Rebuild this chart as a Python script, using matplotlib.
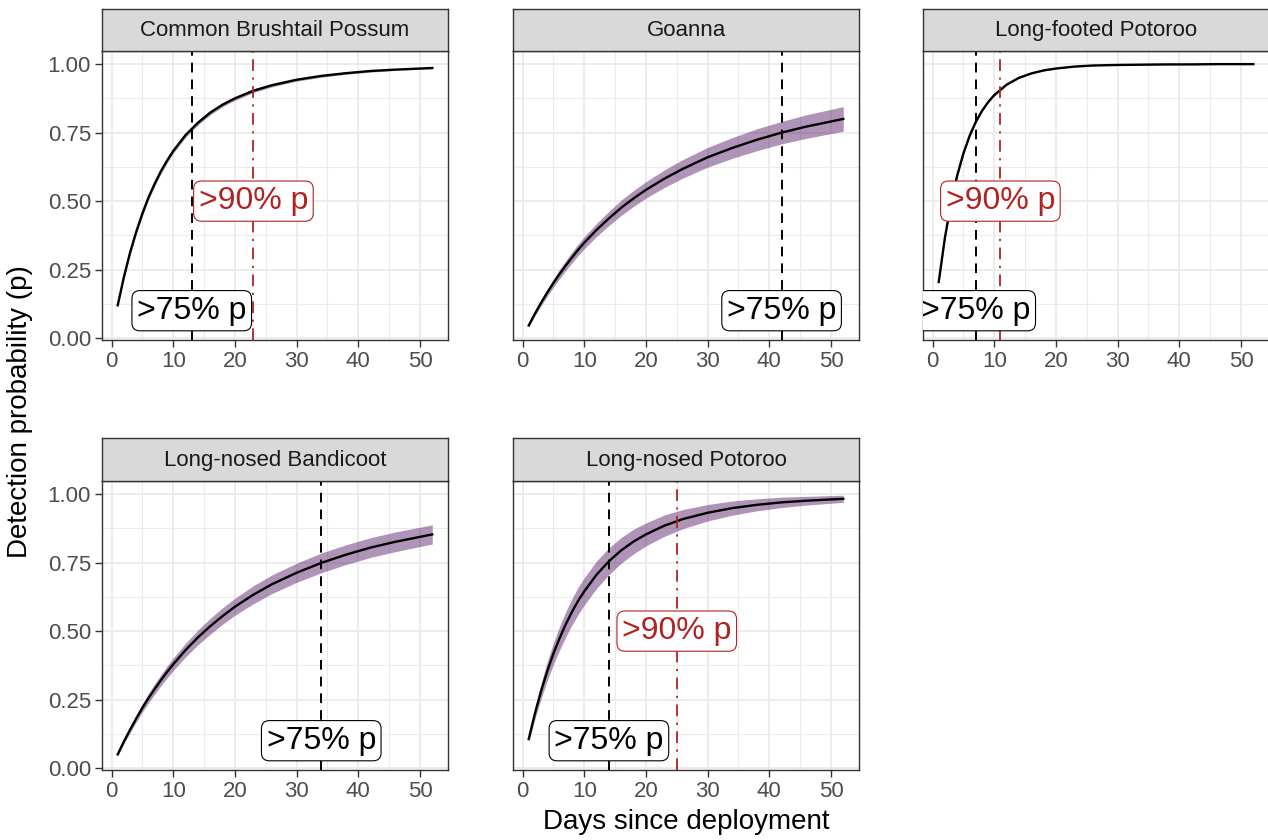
import matplotlib
matplotlib.use("Agg")
import matplotlib.pyplot as plt
from matplotlib.ticker import MultipleLocator, FormatStrFormatter

# ---------------- data ----------------
days = [1, 2, 3, 4, 5, 6, 7, 8, 9, 10, 12, 14, 16, 18, 20, 23, 26, 30, 34, 38, 42, 46, 52]

species = ["Common Brushtail Possum", "Goanna", "Long-footed Potoroo",
           "Long-nosed Bandicoot", "Long-nosed Potoroo"]

possum_p = [0.120, 0.223, 0.312, 0.388, 0.455, 0.514, 0.564, 0.609, 0.648, 0.683, 0.741, 0.786,
            0.823, 0.852, 0.875, 0.903, 0.923, 0.943, 0.957, 0.967, 0.975, 0.980, 0.986]
possum_lo = [0.114, 0.215, 0.303, 0.379, 0.446, 0.505, 0.555, 0.600, 0.639, 0.675, 0.733, 0.778,
             0.815, 0.845, 0.868, 0.896, 0.917, 0.938, 0.952, 0.963, 0.971, 0.977, 0.983]
possum_hi = [0.126, 0.231, 0.321, 0.397, 0.464, 0.523, 0.573, 0.618, 0.657, 0.691, 0.749, 0.794,
             0.831, 0.859, 0.882, 0.910, 0.929, 0.948, 0.962, 0.971, 0.979, 0.983, 0.989]

goanna_p = [0.046, 0.089, 0.129, 0.166, 0.201, 0.234, 0.265, 0.294, 0.322, 0.348, 0.395, 0.437,
            0.476, 0.510, 0.541, 0.582, 0.618, 0.660, 0.694, 0.724, 0.750, 0.772, 0.800]
goanna_lo = [0.041, 0.081, 0.118, 0.153, 0.186, 0.217, 0.247, 0.274, 0.301, 0.326, 0.371, 0.411,
             0.448, 0.481, 0.511, 0.550, 0.584, 0.624, 0.656, 0.684, 0.709, 0.729, 0.755]
goanna_hi = [0.051, 0.097, 0.140, 0.179, 0.216, 0.251, 0.283, 0.314, 0.343, 0.370, 0.419, 0.463,
             0.504, 0.539, 0.571, 0.614, 0.652, 0.696, 0.732, 0.764, 0.791, 0.815, 0.845]

lfpot_p = [0.205, 0.366, 0.494, 0.594, 0.674, 0.738, 0.789, 0.829, 0.861, 0.887, 0.925, 0.950,
           0.966, 0.977, 0.984, 0.991, 0.995, 0.997, 0.998, 0.999, 0.999, 1.000, 1.000]
lfpot_lo = [0.199, 0.359, 0.487, 0.587, 0.668, 0.733, 0.784, 0.825, 0.858, 0.884, 0.922, 0.948,
            0.964, 0.976, 0.983, 0.990, 0.994, 0.996, 0.997, 0.998, 0.999, 0.999, 0.999]
lfpot_hi = [0.211, 0.373, 0.501, 0.601, 0.680, 0.743, 0.794, 0.833, 0.864, 0.890, 0.928, 0.952,
            0.968, 0.978, 0.985, 0.992, 0.996, 0.998, 0.999, 1.000, 1.000, 1.000, 1.000]

bandi_p = [0.050, 0.097, 0.140, 0.181, 0.220, 0.256, 0.289, 0.321, 0.351, 0.379, 0.431, 0.477,
           0.518, 0.555, 0.589, 0.633, 0.671, 0.713, 0.749, 0.779, 0.805, 0.826, 0.853]
bandi_lo = [0.045, 0.089, 0.129, 0.168, 0.205, 0.239, 0.270, 0.301, 0.329, 0.356, 0.406, 0.450,
            0.489, 0.525, 0.558, 0.600, 0.637, 0.678, 0.713, 0.743, 0.769, 0.790, 0.818]
bandi_hi = [0.055, 0.105, 0.151, 0.194, 0.235, 0.273, 0.308, 0.341, 0.373, 0.402, 0.456, 0.504,
            0.547, 0.585, 0.620, 0.666, 0.705, 0.748, 0.785, 0.815, 0.841, 0.862, 0.888]

lnpot_p = [0.106, 0.199, 0.281, 0.354, 0.418, 0.474, 0.525, 0.570, 0.610, 0.645, 0.706, 0.755,
           0.795, 0.827, 0.853, 0.885, 0.909, 0.932, 0.949, 0.961, 0.970, 0.976, 0.983]
lnpot_lo = [0.096, 0.179, 0.253, 0.320, 0.379, 0.431, 0.479, 0.522, 0.560, 0.595, 0.656, 0.706,
            0.748, 0.782, 0.811, 0.846, 0.874, 0.902, 0.923, 0.939, 0.951, 0.960, 0.970]
lnpot_hi = [0.116, 0.219, 0.309, 0.388, 0.457, 0.517, 0.571, 0.618, 0.660, 0.695, 0.756, 0.804,
            0.842, 0.872, 0.895, 0.924, 0.944, 0.962, 0.975, 0.983, 0.989, 0.992, 0.996]

day75 = [13, 42, 7, 34, 14]
day90 = [23, None, 11, None, 25]

label75 = ">75% p"
label90 = ">90% p"
xlabel = "Days since deployment"
ylabel = "Detection probability (p)"

means = [possum_p, goanna_p, lfpot_p, bandi_p, lnpot_p]
lows = [possum_lo, goanna_lo, lfpot_lo, bandi_lo, lnpot_lo]
highs = [possum_hi, goanna_hi, lfpot_hi, bandi_hi, lnpot_hi]

# ---------------- styling ----------------
plt.rcParams['font.family'] = ['Liberation Sans', 'DejaVu Sans']

W, H = 1268, 840
fig = plt.figure(figsize=(W / 100, H / 100), dpi=100)

col_left = [102, 513, 923]
panel_w = 346
rows = [(9, 51, 340), (438, 481, 770)]  # strip top, panel top, panel bottom

RIBBON = '#440154'
RED = '#B22222'
BORDER = '#333333'
GRID = '#EBEBEB'
LABEL_BOX = 'round,pad=0.16,rounding_size=0.25'

# shared scales (ggplot-style 5% expansion)
xmin, xmax = min(days), max(days)
xpad = 0.05 * (xmax - xmin)
ymin_d = min(min(l) for l in lows)
ymax_d = max(max(h) for h in highs)
ypad = 0.05 * (ymax_d - ymin_d)

for i, name in enumerate(species):
    r, c = divmod(i, 3)
    st, pt, pb = rows[r]
    x0 = col_left[c]
    ax = fig.add_axes([x0 / W, (H - pb) / H, panel_w / W, (pb - pt) / H])
    sax = fig.add_axes([x0 / W, (H - pt) / H, panel_w / W, (pt - st) / H])

    ax.set_xlim(xmin - xpad, xmax + xpad)
    ax.set_ylim(ymin_d - ypad, ymax_d + ypad)
    ax.xaxis.set_major_locator(MultipleLocator(10))
    ax.xaxis.set_minor_locator(MultipleLocator(5))
    ax.yaxis.set_major_locator(MultipleLocator(0.25))
    ax.yaxis.set_minor_locator(MultipleLocator(0.125))
    ax.yaxis.set_major_formatter(FormatStrFormatter('%.2f'))
    ax.set_axisbelow(True)
    ax.grid(which='major', color=GRID, lw=1.3)
    ax.grid(which='minor', color=GRID, lw=0.8)
    ax.tick_params(which='minor', length=0)
    ax.tick_params(which='major', length=5, width=1.0, color=BORDER,
                   labelsize=16, labelcolor='#4D4D4D', pad=3)
    if c != 0:
        ax.tick_params(axis='y', which='both', length=0, labelleft=False)
    for s in ax.spines.values():
        s.set_color(BORDER)
        s.set_linewidth(1.0)

    ax.fill_between(days, lows[i], highs[i], color=RIBBON, alpha=0.42, lw=0, zorder=2)
    ax.plot(days, means[i], color='black', lw=1.7, zorder=3)

    ax.axvline(day75[i], color='black', lw=1.4, ls=(0, (5, 3.6)), zorder=4)
    if day90[i] is not None:
        ax.axvline(day90[i], color=RED, lw=1.3, ls=(0, (6.5, 3.6, 1.2, 3.6)), zorder=4)
        ax.text(day90[i], 0.5, label90, ha='center', va='center', fontsize=23, color=RED,
                bbox=dict(boxstyle=LABEL_BOX, fc='white', ec=RED, lw=0.8),
                clip_on=True, zorder=6)
    ax.text(day75[i], 0.1, label75, ha='center', va='center', fontsize=23, color='black',
            bbox=dict(boxstyle=LABEL_BOX, fc='white', ec='black', lw=0.8),
            clip_on=True, zorder=6)

    sax.set_facecolor('#D9D9D9')
    sax.set_xticks([])
    sax.set_yticks([])
    for s in sax.spines.values():
        s.set_color(BORDER)
        s.set_linewidth(1.0)
    sax.text(0.5, 0.48, name, ha='center', va='center', fontsize=16, color='#1A1A1A',
             transform=sax.transAxes)

fig.text(686 / W, 1 - 822 / H, xlabel, ha='center', va='center', fontsize=20, color='black')
fig.text(20 / W, 1 - 412 / H, ylabel, ha='center', va='center', rotation=90,
         fontsize=20, color='black')

fig.savefig('out.png', dpi=100, facecolor='white')
